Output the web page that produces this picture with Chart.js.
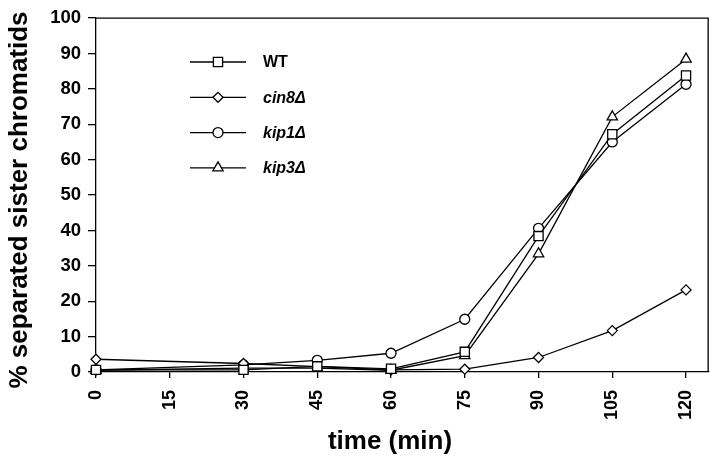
<!DOCTYPE html>
<html>
<head>
<meta charset="utf-8">
<script src="https://cdn.jsdelivr.net/npm/chart.js@4/dist/chart.umd.min.js"></script>
<style>
  html, body { margin: 0; padding: 0; background: #fff; }
  #wrap { width: 720px; height: 461px; }
</style>
</head>
<body>
<div id="wrap"><canvas id="chart" width="720" height="461"></canvas></div>
<script>
// Dados
const times = [0, 30, 45, 60, 75, 90, 105, 120]
const xTicks = [0, 15, 30, 45, 60, 75, 90, 105, 120]
const yTicks = [0, 10, 20, 30, 40, 50, 60, 70, 80, 90, 100]

const seriesNames = ['WT', 'cin8Δ', 'kip1Δ', 'kip3Δ']
const wtValues   = [0.6, 0.6, 1.6, 0.9, 5.7, 38.4, 67.2, 83.8]
const cin8Values = [3.6, 2.4, 1.5, 0.6, 0.8, 4.1, 11.7, 23.2]
const kip1Values = [0.6, 2.0, 3.3, 5.3, 14.9, 40.6, 65.0, 81.3]
const kip3Values = [0.5, 1.1, 1.1, 0.5, 4.6, 33.4, 72.1, 88.4]

const xTitle = 'time (min)'
const yTitle = '% separated sister chromatids'

const pointStyles = ['rect', 'rectRot', 'circle', 'triangle']
const pointSizes = [6.5, 5, 5, 6]

const FONT = "'Liberation Sans', Arial, Helvetica, sans-serif"

const makeSet = (i, values) => ({
  label: seriesNames[i],
  data: times.map((t, k) => ({ x: t, y: values[k] })),
  borderColor: '#000',
  backgroundColor: '#fff',
  borderWidth: 1.3,
  pointStyle: pointStyles[i],
  pointRadius: pointSizes[i],
  pointBorderWidth: 1.3,
  pointBorderColor: '#000',
  pointBackgroundColor: '#fff',
  tension: 0,
  clip: false
})

// Caixa em volta da área do gráfico
const frame = {
  id: 'frame',
  afterDraw(chart) {
    const { ctx, chartArea: a } = chart
    ctx.save()
    ctx.strokeStyle = '#000'
    ctx.lineWidth = 1.3
    ctx.beginPath()
    ctx.moveTo(a.left, a.top)
    ctx.lineTo(a.right, a.top)
    ctx.lineTo(a.right, a.bottom)
    ctx.stroke()
    ctx.restore()
  }
}

// Títulos dos eixos (posição um pouco fora do centro, como no original)
const axisTitles = {
  id: 'axisTitles',
  afterDraw(chart) {
    const ctx = chart.ctx
    ctx.save()
    ctx.fillStyle = '#000'
    ctx.font = 'bold 26px ' + FONT
    ctx.textAlign = 'center'
    ctx.textBaseline = 'middle'
    ctx.fillText(xTitle, 390, 442)
    ctx.translate(20, 200)
    ctx.rotate(-Math.PI / 2)
    ctx.fillText(yTitle, 0, 0)
    ctx.restore()
  }
}

// Legenda desenhada dentro da área
const innerLegend = {
  id: 'innerLegend',
  afterDraw(chart) {
    const ctx = chart.ctx
    ctx.save()
    chart.data.datasets.forEach((ds, i) => {
      const y = 62 + i * 35.3
      ctx.strokeStyle = '#000'
      ctx.lineWidth = 1.3
      ctx.beginPath()
      ctx.moveTo(190, y)
      ctx.lineTo(246, y)
      ctx.stroke()
      ctx.fillStyle = '#fff'
      Chart.helpers.drawPoint(ctx, {
        pointStyle: ds.pointStyle, radius: ds.pointRadius, rotation: 0, borderWidth: 1.3
      }, 218, y)
      ctx.fillStyle = '#000'
      ctx.font = (i === 0 ? 'bold ' : 'italic bold ') + '16px ' + FONT
      ctx.textBaseline = 'middle'
      ctx.textAlign = 'left'
      ctx.fillText(ds.label, 263, y + 1)
    })
    ctx.restore()
  }
}

new Chart(document.getElementById('chart'), {
  type: 'line',
  data: {
    datasets: [
      makeSet(0, wtValues),
      makeSet(1, cin8Values),
      makeSet(2, kip1Values),
      makeSet(3, kip3Values)
    ]
  },
  options: {
    responsive: false,
    animation: false,
    devicePixelRatio: 1,
    layout: { padding: { top: 11.5, right: 10, left: 0, bottom: 0 } },
    plugins: {
      legend: { display: false },
      tooltip: { enabled: false }
    },
    scales: {
      x: {
        type: 'linear',
        min: 0,
        max: 124.5,
        afterBuildTicks: s => { s.ticks = xTicks.map(v => ({ value: v })) },
        afterFit: s => { s.height = 89 },
        ticks: {
          minRotation: 90,
          maxRotation: 90,
          padding: 12,
          color: '#000',
          font: { family: FONT, size: 18, weight: 'bold' }
        },
        grid: { drawOnChartArea: false, tickLength: 6, color: '#000', lineWidth: 1.3 },
        border: { color: '#000', width: 1.3 }
      },
      y: {
        min: 0,
        max: 100,
        afterBuildTicks: s => { s.ticks = yTicks.map(v => ({ value: v })) },
        afterFit: s => { s.width = 96 },
        ticks: {
          padding: 7,
          color: '#000',
          font: { family: FONT, size: 18.5, weight: 'bold' }
        },
        grid: { drawOnChartArea: false, tickLength: 8, color: '#000', lineWidth: 1.3 },
        border: { color: '#000', width: 1.3 }
      }
    }
  },
  plugins: [frame, axisTitles, innerLegend]
})
</script>
</body>
</html>
